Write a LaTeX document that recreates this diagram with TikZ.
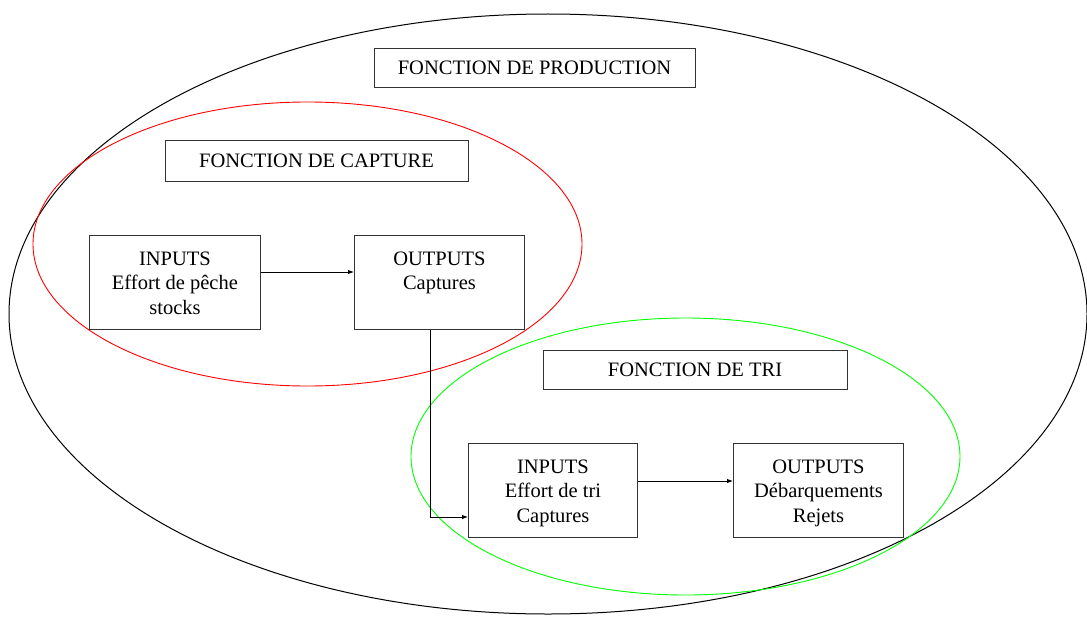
\documentclass[tikz,border=0pt]{standalone}
\usepackage{fontspec}
\setmainfont{Liberation Serif}
\usetikzlibrary{arrows.meta}
\begin{document}
\begin{tikzpicture}[x=1pt,y=-1pt,
  box/.style={draw=black!80, line width=0.9pt, inner sep=0pt, anchor=north west},
  title/.style={box, anchor=center, font=\fontsize{20.5}{25}\selectfont},
  txt/.style={align=center, anchor=north, inner sep=0pt, font=\fontsize{20.5}{24.5}\selectfont},
  conn/.style={line width=0.9pt, -{Latex[length=6pt,width=4.5pt]}}]
\useasboundingbox (0,0) rectangle (1087,618);
\draw[line width=1pt] (548,314) ellipse [x radius=539, y radius=300];
\draw[red, line width=0.9pt] (307.5,244) ellipse [x radius=274.5, y radius=142];
\draw[green, line width=0.9pt] (685.5,456.5) ellipse [x radius=274.5, y radius=138.5];
% title boxes
\node[title, minimum width=321pt, minimum height=39pt] (prod) at (534.5,67.5) {FONCTION DE PRODUCTION};
\node[title, minimum width=303pt, minimum height=41pt] (capt) at (316.5,160.5) {FONCTION DE CAPTURE};
\node[title, minimum width=304pt, minimum height=39pt] (tri) at (695,369.5) {FONCTION DE TRI};
% process boxes
\node[box, minimum width=171pt, minimum height=94pt] (in1) at (89,235) {};
\node[box, minimum width=170pt, minimum height=94pt] (out1) at (354,235) {};
\node[box, minimum width=169pt, minimum height=94pt] (in2) at (468,443) {};
\node[box, minimum width=170pt, minimum height=94pt] (out2) at (733,443) {};
\node[txt] (in1t) at ([yshift=-16.5pt]in1.north) {INPUTS\\Effort de pêche\\stocks};
\node[txt] (out1t) at ([yshift=-16.5pt]out1.north) {OUTPUTS\\Captures};
\node[txt] (in2t) at ([yshift=-16.5pt]in2.north) {INPUTS\\Effort de tri\\Captures};
\node[txt] (out2t) at ([yshift=-16.5pt]out2.north) {OUTPUTS\\Débarquements\\Rejets};
% connectors
\draw[conn] (in1.east |- 0,272) -- (out1.west |- 0,272);
\draw[conn] (out1.south -| 430,0) -- (430,517) -- (in2.west |- 0,517);
\draw[conn] (in2.east |- 0,481) -- (out2.west |- 0,481);
\end{tikzpicture}
\end{document}
